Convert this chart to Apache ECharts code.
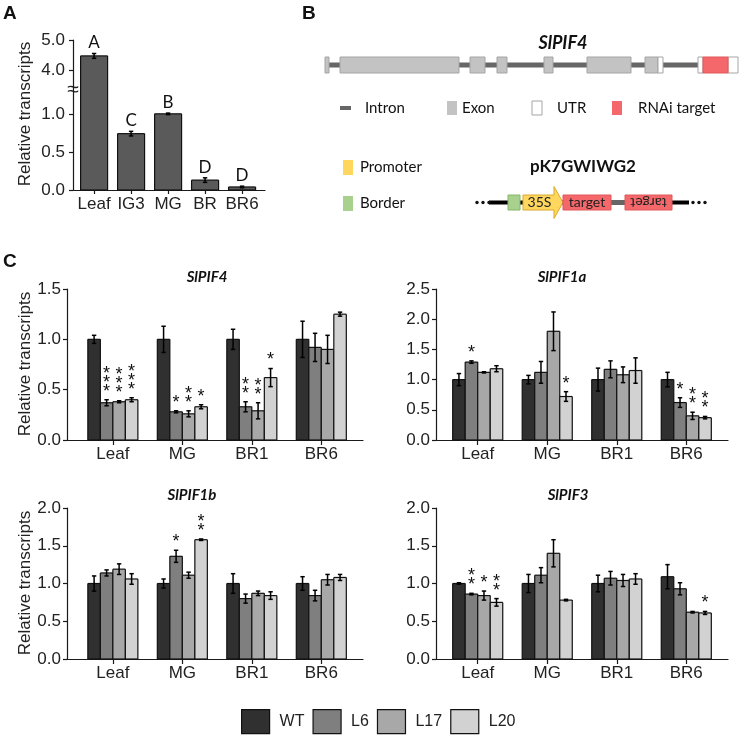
<!DOCTYPE html>
<html><head><meta charset="utf-8">
<script src="https://cdn.jsdelivr.net/npm/echarts@6/dist/echarts.min.js"></script>
<style>html,body{margin:0;padding:0;background:#fff}#c{width:741px;height:741px}</style>
</head><body><div id="c"></div><script>
// ---------- Panel A data ----------
const aCategories = ['Leaf', 'IG3', 'MG', 'BR', 'BR6'];
const aValues = [4.47, 0.74, 1.00, 0.13, 0.04];
const aErrors = [0.08, 0.03, 0.01, 0.03, 0.01];
const aLetters = ['A', 'C', 'B', 'D', 'D'];
const aLowerTicks = [0, 0.5, 1.0];
const aUpperTicks = [4.0, 5.0];

// ---------- Panel B data (schematic feature spans) ----------
const geneIntron = [[2, 373]];
const geneExons = [[0, 4], [15, 134], [145, 160], [172, 182], [219, 228], [262, 306], [320, 333]];
const geneUTRs = [[333, 338], [373, 378], [403, 413]];
const geneRNAi = [[378, 403]];
const vectorDots = [[2, 14], [218, 230]];
const vectorBackbone = [[14, 214]];
const vectorBorder = [[33, 45]];
const vectorPromoter = [[48, 88]];
const vectorTarget = [[88, 136]];
const vectorLink = [[136, 150]];
const vectorTargetRev = [[150, 197]];

// ---------- Panel C data ----------
const cCategories = ['Leaf', 'MG', 'BR1', 'BR6'];
const genotypes = ['WT', 'L6', 'L17', 'L20'];
// rows: WT, L6, L17, L20 ; columns: Leaf, MG, BR1, BR6
const pif4Values = [[1.00, 1.00, 1.00, 1.00], [0.37, 0.28, 0.33, 0.92], [0.38, 0.26, 0.29, 0.90], [0.40, 0.33, 0.62, 1.25]];
const pif4Errors = [[0.04, 0.13, 0.10, 0.18], [0.03, 0.01, 0.05, 0.14], [0.01, 0.03, 0.08, 0.14], [0.02, 0.02, 0.09, 0.02]];
const pif4Stars = [[0, 0, 0, 0], [3, 1, 2, 0], [3, 2, 2, 0], [3, 1, 1, 0]];

const pif1aValues = [[1.00, 1.00, 1.00, 1.00], [1.29, 1.12, 1.17, 0.62], [1.12, 1.80, 1.08, 0.40], [1.18, 0.72, 1.15, 0.37]];
const pif1aErrors = [[0.10, 0.07, 0.19, 0.12], [0.02, 0.18, 0.14, 0.08], [0.01, 0.32, 0.13, 0.06], [0.05, 0.08, 0.21, 0.02]];
const pif1aStars = [[0, 0, 0, 0], [1, 0, 0, 1], [0, 0, 0, 2], [0, 1, 0, 2]];

const pif1bValues = [[1.00, 1.00, 1.00, 1.00], [1.14, 1.36, 0.80, 0.84], [1.19, 1.11, 0.87, 1.05], [1.06, 1.58, 0.84, 1.08]];
const pif1bErrors = [[0.10, 0.06, 0.13, 0.09], [0.04, 0.08, 0.06, 0.07], [0.07, 0.04, 0.03, 0.07], [0.07, 0.01, 0.05, 0.04]];
const pif1bStars = [[0, 0, 0, 0], [0, 1, 0, 0], [0, 0, 0, 0], [0, 2, 0, 0]];

const pif3Values = [[1.00, 1.00, 1.00, 1.09], [0.86, 1.11, 1.07, 0.93], [0.84, 1.40, 1.04, 0.62], [0.75, 0.78, 1.06, 0.61]];
const pif3Errors = [[0.01, 0.12, 0.11, 0.16], [0.01, 0.10, 0.09, 0.08], [0.06, 0.18, 0.08, 0.01], [0.05, 0.01, 0.07, 0.02]];
const pif3Stars = [[0, 0, 0, 0], [2, 0, 0, 0], [1, 0, 0, 0], [2, 0, 0, 1]];

// ---------- styling ----------
const AX = '#1a1a1a';
const FONT = '"Liberation Sans", Arial, sans-serif';
const CAL = 'Lato, "Open Sans", sans-serif';
const genoColors = ['#303030', '#7f7f7f', '#a8a8a8', '#d2d2d2'];
const aColor = '#5a5a5a';
const RED = '#f4686b';

function barRender(slot, count, bw, fill, labels) {
  return function (params, api) {
    const cat = api.value(0), v = api.value(1), e = api.value(2), s = api.value(3);
    const xc = cat + (slot - (count - 1) / 2) * bw;
    const cs = params.coordSys;
    const top = cs.y, bot = cs.y + cs.height;
    const pl = api.coord([xc - bw / 2, v]);
    const pr = api.coord([xc + bw / 2, 0]);
    const x0 = pl[0], x1 = pr[0];
    let yt = pl[1], yb = pr[1];
    const clipTop = yt < top, clipBot = yb > bot;
    yt = Math.max(yt, top); yb = Math.min(yb, bot);
    if (yb <= yt) return { type: 'group', children: [] };
    const ch = [];
    ch.push({ type: 'rect', shape: { x: x0, y: yt, width: x1 - x0, height: yb - yt }, style: { fill: fill } });
    const ls = { stroke: '#111', lineWidth: 1.2, fill: null };
    ch.push({ type: 'line', shape: { x1: x0, y1: yt, x2: x0, y2: yb }, style: ls });
    ch.push({ type: 'line', shape: { x1: x1, y1: yt, x2: x1, y2: yb }, style: ls });
    if (!clipTop) ch.push({ type: 'line', shape: { x1: x0, y1: yt, x2: x1, y2: yt }, style: ls });
    if (!clipBot) ch.push({ type: 'line', shape: { x1: x0, y1: yb, x2: x1, y2: yb }, style: ls });
    const et = api.coord([xc, v + e]);
    const eb = api.coord([xc, v - e]);
    if (et[1] >= top - 2 && eb[1] <= bot + 2) {
      const es = { stroke: '#000', lineWidth: 1.5 };
      const cw = 2.2;
      ch.push({ type: 'line', shape: { x1: et[0], y1: et[1], x2: eb[0], y2: eb[1] }, style: es });
      ch.push({ type: 'line', shape: { x1: et[0] - cw, y1: et[1], x2: et[0] + cw, y2: et[1] }, style: es });
      ch.push({ type: 'line', shape: { x1: eb[0] - cw, y1: eb[1], x2: eb[0] + cw, y2: eb[1] }, style: es });
      for (let k = 0; k < s; k++) {
        ch.push({ type: 'text', x: et[0], y: et[1] - 12 - k * 9 + 4,
          style: { text: '*', fill: '#111', fontSize: 18, fontFamily: FONT, align: 'center', verticalAlign: 'middle' } });
      }
      if (labels) {
        ch.push({ type: 'text', x: et[0], y: et[1] - 2,
          style: { text: labels[Math.round(cat)], fill: '#111', fontSize: 17, fontFamily: CAL, align: 'center', verticalAlign: 'bottom' } });
      }
    }
    return { type: 'group', children: ch };
  };
}

function featureRect(fill, stroke, thick) {
  return function (params, api) {
    const a = api.coord([api.value(0), 1]);
    const b = api.coord([api.value(1), 0]);
    if (thick) {
      const ym = (a[1] + b[1]) / 2;
      return { type: 'rect', shape: { x: a[0], y: ym - thick / 2, width: b[0] - a[0], height: thick }, style: { fill: fill } };
    }
    return { type: 'rect', shape: { x: a[0], y: a[1], width: b[0] - a[0], height: b[1] - a[1] },
      style: { fill: fill, stroke: stroke, lineWidth: 1 } };
  };
}
function dotsRender(params, api) {
  const a = api.coord([api.value(0), 0.5]);
  const b = api.coord([api.value(1), 0.5]);
  const ch = [];
  for (let k = 0; k < 3; k++) {
    const x = a[0] + (b[0] - a[0]) * k / 2;
    ch.push({ type: 'circle', shape: { cx: x, cy: a[1], r: 1.7 }, style: { fill: '#111' } });
  }
  return { type: 'group', children: ch };
}
function arrowRender(params, api) {
  const a = api.coord([api.value(0), 1]);
  const b = api.coord([api.value(1), 0]);
  const ym = (a[1] + b[1]) / 2, head = 9, hh = 16;
  const xh = b[0] - head;
  return { type: 'group', children: [
    { type: 'polygon', shape: { points: [[a[0], a[1]], [xh, a[1]], [xh, ym - hh], [b[0], ym], [xh, ym + hh], [xh, b[1]], [a[0], b[1]]] },
      style: { fill: '#ffd75e', stroke: '#d9a92c', lineWidth: 1 } },
    { type: 'text', x: (a[0] + xh) / 2 + 1, y: ym, style: { text: '35S', fill: '#222', fontSize: 14, fontFamily: CAL, align: 'center', verticalAlign: 'middle' } }
  ] };
}
function targetRender(rev) {
  return function (params, api) {
    const a = api.coord([api.value(0), 1]);
    const b = api.coord([api.value(1), 0]);
    const ym = (a[1] + b[1]) / 2, xm = (a[0] + b[0]) / 2;
    return { type: 'group', children: [
      { type: 'rect', shape: { x: a[0], y: a[1], width: b[0] - a[0], height: b[1] - a[1] }, style: { fill: RED, stroke: '#e0575a', lineWidth: 1 } },
      { type: 'text', x: xm, y: ym, rotation: rev ? Math.PI : 0,
        style: { text: 'target', fill: '#222', fontSize: 14, fontFamily: CAL, align: 'center', verticalAlign: 'middle' } }
    ] };
  };
}

// ---------- axes ----------
function cX(gi, min, max) {
  return { type: 'value', gridIndex: gi, min: min, max: max,
    axisLine: { show: true, onZero: false, lineStyle: { color: AX, width: 1.2 } },
    axisTick: { show: true, customValues: [0, 1, 2, 3], length: 5, lineStyle: { color: AX, width: 1.2 } },
    axisLabel: { customValues: [0, 1, 2, 3], formatter: v => cCategories[Math.round(v)], fontSize: 17, color: '#222', margin: 6, fontFamily: FONT },
    splitLine: { show: false } };
}
function cY(gi, max) {
  return { type: 'value', gridIndex: gi, min: 0, max: max, interval: 0.5,
    axisLine: { show: true, onZero: false, lineStyle: { color: AX, width: 1.2 } },
    axisTick: { show: true, length: 4, lineStyle: { color: AX, width: 1.2 } },
    axisLabel: { formatter: v => v.toFixed(1), fontSize: 17, color: '#222', margin: 6, fontFamily: FONT },
    splitLine: { show: false } };
}
const hidden = (gi, min, max) => ({ type: 'value', gridIndex: gi, min: min, max: max, show: false });

const grids = [
  { left: 73, top: 40, width: 192, height: 51 },   // A upper
  { left: 73, top: 91, width: 192, height: 99 },   // A lower
  { left: 325, top: 57, width: 413, height: 16 },  // B gene
  { left: 475, top: 195, width: 232, height: 15 }, // B vector
  { left: 67, top: 289, width: 296, height: 151 },  // C TL
  { left: 436, top: 289, width: 292, height: 151 }, // C TR
  { left: 67, top: 508, width: 296, height: 151 },  // C BL
  { left: 436, top: 508, width: 292, height: 151 }  // C BR
].map(g => Object.assign({ outerBoundsMode: 'none', containLabel: false }, g));

const xAxes = [
  { type: 'value', gridIndex: 0, min: -0.57, max: 4.62, show: false },
  { type: 'value', gridIndex: 1, min: -0.57, max: 4.62,
    axisLine: { show: true, onZero: false, lineStyle: { color: AX, width: 1.2 } },
    axisTick: { show: true, customValues: [0, 1, 2, 3, 4], length: 4, lineStyle: { color: AX, width: 1.2 } },
    axisLabel: { customValues: [0, 1, 2, 3, 4], formatter: v => aCategories[Math.round(v)], fontSize: 17, color: '#222', margin: 6, fontFamily: FONT },
    splitLine: { show: false } },
  hidden(2, 0, 413), hidden(3, 0, 232),
  cX(4, -0.66, 3.6), cX(5, -0.6, 3.6), cX(6, -0.66, 3.6), cX(7, -0.6, 3.6)
];
const aY = (gi, min, max, ticks) => ({ type: 'value', gridIndex: gi, min: min, max: max,
  axisLine: { show: true, onZero: false, lineStyle: { color: AX, width: 1.2 } },
  axisTick: { show: true, customValues: ticks, length: 4, lineStyle: { color: AX, width: 1.2 } },
  axisLabel: { customValues: ticks, formatter: v => v.toFixed(1), fontSize: 17, color: '#222', margin: 8, fontFamily: FONT },
  splitLine: { show: false } });
const yAxes = [
  aY(0, 3.3, 5.0, aUpperTicks), aY(1, 0, 1.3, aLowerTicks),
  hidden(2, 0, 1), hidden(3, 0, 1),
  cY(4, 1.5), cY(5, 2.5), cY(6, 2.0), cY(7, 2.0)
];

// ---------- series ----------
const series = [];
const aData = aCategories.map((c, i) => [i, aValues[i], aErrors[i], 0]);
[0, 1].forEach(gi => series.push({ type: 'custom', name: 'A' + gi, xAxisIndex: gi, yAxisIndex: gi,
  renderItem: barRender(0, 1, 0.73, aColor, aLetters), data: aData, encode: { x: 0, y: 1 }, silent: true }));

function addSpans(gi, arr, render, z) {
  series.push({ type: 'custom', xAxisIndex: gi, yAxisIndex: gi, renderItem: render, data: arr, encode: { x: [0, 1] }, z: z, silent: true });
}
addSpans(2, geneIntron, featureRect('#666666', null, 5), 1);
addSpans(2, geneExons, featureRect('#c3c3c3', '#a5a5a5'), 2);
addSpans(2, geneUTRs, featureRect('#ffffff', '#a5a5a5'), 2);
addSpans(2, geneRNAi, featureRect(RED, '#e0575a'), 2);
addSpans(3, vectorBackbone, featureRect('#000000', null, 4), 1);
addSpans(3, vectorDots, dotsRender, 1);
addSpans(3, vectorBorder, featureRect('#a9d18e', '#86b56a'), 2);
addSpans(3, vectorPromoter, arrowRender, 2);
addSpans(3, vectorLink, featureRect('#666666', null, 5), 2);
addSpans(3, vectorTarget, targetRender(false), 2);
addSpans(3, vectorTargetRev, targetRender(true), 2);

const cPanels = [
  [4, pif4Values, pif4Errors, pif4Stars],
  [5, pif1aValues, pif1aErrors, pif1aStars],
  [6, pif1bValues, pif1bErrors, pif1bStars],
  [7, pif3Values, pif3Errors, pif3Stars]
];
cPanels.forEach(([gi, vals, errs, stars]) => {
  genotypes.forEach((g, j) => {
    series.push({ type: 'custom', name: g, xAxisIndex: gi, yAxisIndex: gi,
      itemStyle: { color: genoColors[j] },
      renderItem: barRender(j, 4, 0.18, genoColors[j], null),
      data: cCategories.map((c, i) => [i, vals[j][i], errs[j][i], stars[j][i]]),
      encode: { x: 0, y: 1 }, silent: true });
  });
});

// ---------- decorations ----------
const T = (x, y, text, opt) => ({ type: 'text', x: x, y: y, rotation: (opt && opt.rot) || 0, silent: true,
  style: Object.assign({ text: text, fill: '#111', fontSize: 15, fontFamily: CAL, align: 'left', verticalAlign: 'middle' }, (opt && opt.s) || {}) });
const R = (x, y, w, h, fill, stroke) => ({ type: 'rect', silent: true, shape: { x: x, y: y, width: w, height: h }, style: { fill: fill, stroke: stroke || null, lineWidth: 1 } });
const bold = { fontFamily: FONT, fontWeight: 'bold', fontSize: 19 };
const ytitle = { fontFamily: FONT, fontSize: 17, align: 'center', fill: '#222' };
const ital = { fontFamily: CAL, fontWeight: 'bold', fontStyle: 'italic', fontSize: 15, align: 'center' };

const graphics = [
  T(3, 14, 'A', { s: bold }), T(302, 14, 'B', { s: bold }), T(3, 262, 'C', { s: bold }),
  T(25, 114, 'Relative transcripts', { rot: Math.PI / 2, s: ytitle }),
  T(25, 364, 'Relative transcripts', { rot: Math.PI / 2, s: ytitle }),
  T(25, 583, 'Relative transcripts', { rot: Math.PI / 2, s: ytitle }),
  T(73, 90, '\u2248', { s: { fontFamily: FONT, fontSize: 21, align: 'center', backgroundColor: '#fff', fill: '#222' } }),
  T(563, 43, 'SlPIF4', { s: Object.assign({}, ital, { fontSize: 18 }) }),
  T(207, 277, 'SlPIF4', { s: ital }), T(562, 277, 'SlPIF1a', { s: ital }),
  T(192, 495, 'SlPIF1b', { s: ital }), T(568, 495, 'SlPIF3', { s: ital }),
  R(340, 106, 11, 4, '#666666'), T(365, 108, 'Intron'),
  R(447, 101, 10, 14, '#c3c3c3'), T(462, 108, 'Exon'),
  R(532, 101, 10, 14, '#ffffff', '#a5a5a5'), T(557, 108, 'UTR'),
  R(612, 101, 10, 14, RED), T(638, 108, 'RNAi target'),
  R(343, 160, 10, 15, '#ffd75e'), T(360, 167, 'Promoter'),
  R(343, 196, 10, 15, '#a9d18e'), T(360, 203, 'Border'),
  T(583, 167, 'pK7GWIWG2', { s: { fontFamily: CAL, fontWeight: 'bold', fontSize: 17, align: 'center' } })
];

const option = {
  animation: false,
  backgroundColor: '#ffffff',
  textStyle: { fontFamily: FONT },
  grid: grids, xAxis: xAxes, yAxis: yAxes,
  legend: {
    data: genotypes.map((g, j) => ({ name: g, icon: 'rect', itemStyle: { color: genoColors[j], borderColor: '#111', borderWidth: 1.2 } })),
    left: 241, top: 709, padding: 0, itemWidth: 28, itemHeight: 24, itemGap: 8, selectedMode: false,
    textStyle: { fontSize: 16, color: '#222', fontFamily: FONT, padding: [0, 0, 0, 5] }
  },
  graphic: { elements: graphics },
  series: series
};
const chart = echarts.init(document.getElementById('c'), null, { renderer: 'canvas' });
chart.setOption(option);
</script></body></html>
